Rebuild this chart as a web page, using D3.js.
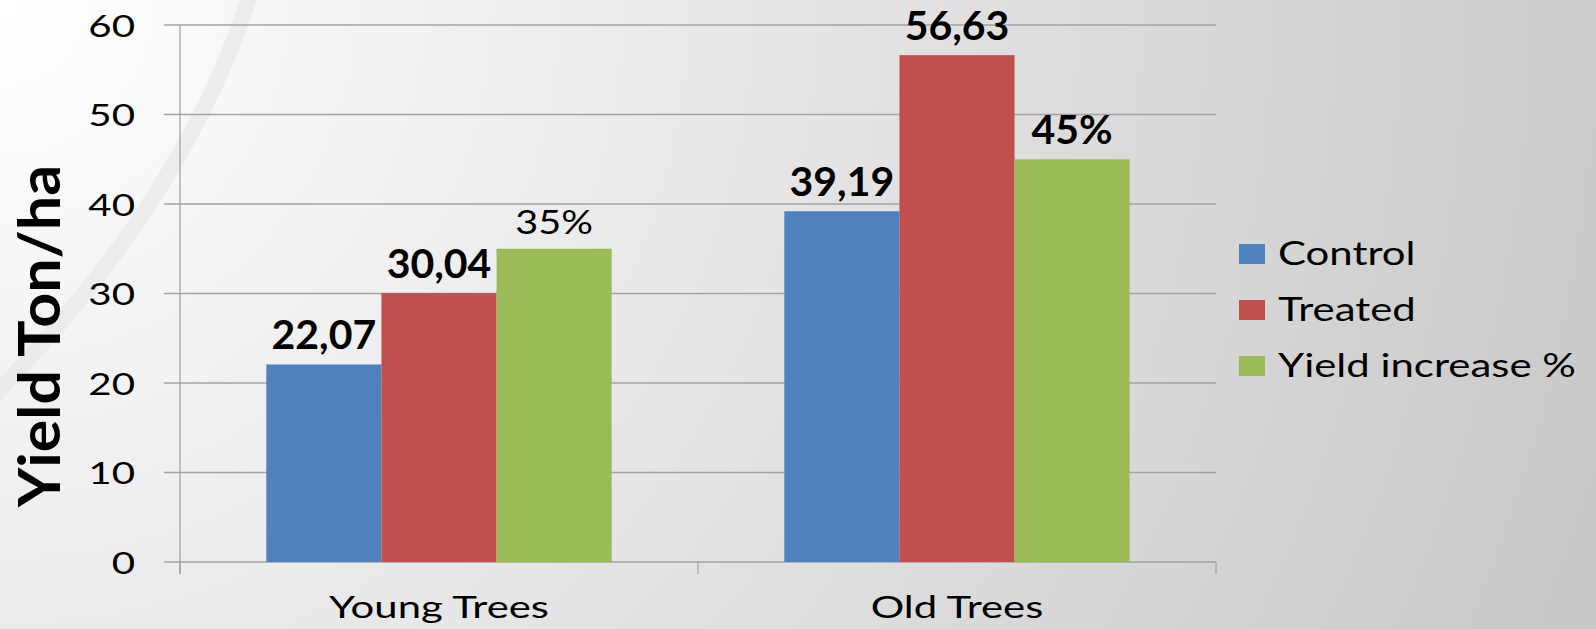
<!DOCTYPE html>
<html>
<head>
<meta charset="utf-8">
<script src="https://cdn.jsdelivr.net/npm/d3@7"></script>
<style>
  html, body { margin: 0; padding: 0; overflow: hidden; }
  text { font-family: Lato, "Open Sans", sans-serif; fill: #000; }
</style>
</head>
<body>
<div id="chart"></div>
<script>
// data
var categories = ["Young Trees", "Old Trees"];
var series = ["Control", "Treated", "Yield increase %"];
var control = [22.07, 39.19];
var treated = [30.04, 56.63];
var yieldIncrease = [35, 45];
var yTicks = [0, 10, 20, 30, 40, 50, 60];

var colors = ["#4F81BD", "#C0504D", "#9BBB59"];
var values = [control, treated, yieldIncrease];

var W = 1596, H = 629;
var svg = d3.select("#chart").append("svg")
    .attr("width", W)
    .attr("height", H);

// background
var defs = svg.append("defs");
var grad = defs.append("radialGradient")
    .attr("id", "bg")
    .attr("gradientUnits", "userSpaceOnUse")
    .attr("cx", 0).attr("cy", 0).attr("r", 1700);
grad.append("stop").attr("offset", 0).attr("stop-color", "#ffffff");
grad.append("stop").attr("offset", 0.3).attr("stop-color", "#efefef");
grad.append("stop").attr("offset", 1).attr("stop-color", "#c8c8c8");

svg.append("rect").attr("width", W).attr("height", H).attr("fill", "url(#bg)");

// the faint swoosh in the upper left
svg.append("path")
   .attr("d", "M250,-5 Q185,200 -10,400")
   .style("fill", "none")
   .style("stroke", "#e4e4e4")
   .style("stroke-width", 16)
   .style("opacity", 0.55);

var plotL = 180, plotR = 1216, plotT = 25, plotB = 562;

var y = d3.scaleLinear().domain([0, 60]).range([plotB, plotT]);
var x0 = d3.scaleBand().domain(categories).range([plotL, plotR]);
var x1 = d3.scaleBand().domain(series).range([0, x0.bandwidth()]).paddingOuter(0.75);

// horizontal stretch of the text
function stretch(sel, sx) {
    sel.attr("transform", function () {
        return (d3.select(this).attr("transform") || "") + " scale(" + sx + ",1)";
    });
}

function isPlain(d) {
    return d.cat === "Young Trees" && d.series === "Yield increase %";
}

// gridlines
svg.append("g")
   .attr("class", "grid")
   .selectAll("line")
   .data(yTicks)
   .enter()
   .append("line")
   .attr("x1", plotL - 16)
   .attr("x2", plotR)
   .attr("y1", function (d) { return y(d); })
   .attr("y2", function (d) { return y(d); })
   .style("stroke", "#a3a3a3")
   .style("stroke-width", 1.3);

// y axis line
svg.append("line")
   .attr("x1", plotL).attr("x2", plotL)
   .attr("y1", plotT).attr("y2", plotB + 12)
   .style("stroke", "#a3a3a3")
   .style("stroke-width", 1.3);

// x ticks between categories
var xEdges = categories.map(function (c) { return x0(c); }).concat([plotR]);
svg.append("g")
   .selectAll("line")
   .data(xEdges)
   .enter()
   .append("line")
   .attr("x1", function (d) { return d; })
   .attr("x2", function (d) { return d; })
   .attr("y1", plotB)
   .attr("y2", plotB + 12)
   .style("stroke", "#a3a3a3")
   .style("stroke-width", 1.3);

// y tick labels
svg.append("g")
   .selectAll("text")
   .data(yTicks)
   .enter()
   .append("text")
   .attr("transform", function (d) { return "translate(135," + (y(d) + 11.5) + ")"; })
   .style("text-anchor", "end")
   .style("font-size", "31px")
   .text(function (d) { return d; })
   .call(stretch, 1.3);

// category labels
svg.append("g")
   .selectAll("text")
   .data(categories)
   .enter()
   .append("text")
   .attr("transform", function (d) { return "translate(" + (x0(d) + x0.bandwidth() / 2) + ",618)"; })
   .style("text-anchor", "middle")
   .style("font-size", "31px")
   .text(function (d) { return d; })
   .call(stretch, 1.35);

// y title
svg.append("text")
   .attr("transform", "translate(60,336) rotate(-90)")
   .style("text-anchor", "middle")
   .style("font-size", "58px")
   .style("font-weight", "bold")
   .text("Yield Ton/ha")
   .call(stretch, 1.05);

// bars
var barData = [];
categories.forEach(function (c, i) {
    series.forEach(function (s, j) {
        barData.push({cat: c, series: s, value: values[j][i], color: colors[j]});
    });
});

var groups = svg.append("g")
   .attr("class", "bars")
   .selectAll("g")
   .data(barData)
   .enter()
   .append("g");

groups.append("rect")
   .attr("x", function (d) { return x0(d.cat) + x1(d.series); })
   .attr("y", function (d) { return y(d.value); })
   .attr("width", x1.bandwidth())
   .attr("height", function (d) { return plotB - y(d.value); })
   .style("fill", function (d) { return d.color; });

function labelText(d) {
    if (d.series === "Yield increase %") return d.value + "%";
    return d3.format(".2f")(d.value).replace(".", ",");
}

groups.append("text")
   .attr("transform", function (d) {
       return "translate(" + (x0(d.cat) + x1(d.series) + x1.bandwidth() / 2) + "," + (y(d.value) - 15) + ")";
   })
   .style("text-anchor", "middle")
   .style("font-size", function (d) { return isPlain(d) ? "33px" : "41px"; })
   .style("font-weight", function (d) { return isPlain(d) ? "normal" : "bold"; })
   .text(labelText)
   .each(function (d) {
       d3.select(this).call(stretch, isPlain(d) ? 1.2 : 1.0);
   });

// legend
var legend = svg.append("g")
   .attr("class", "legend")
   .selectAll("g")
   .data(series)
   .enter()
   .append("g")
   .attr("transform", function (d, i) { return "translate(1239," + (244 + i * 56) + ")"; });

legend.append("rect")
   .attr("width", 26)
   .attr("height", 20)
   .style("fill", function (d, i) { return colors[i]; });

legend.append("text")
   .attr("transform", "translate(39,20.5)")
   .style("font-size", "32px")
   .text(function (d) { return d; })
   .call(stretch, 1.31);
</script>
</body>
</html>
